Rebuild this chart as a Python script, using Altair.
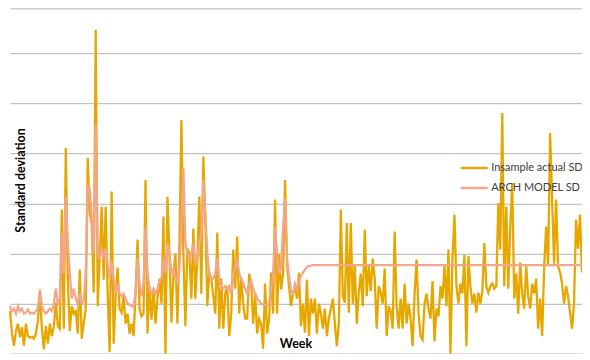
import altair as alt
import pandas as pd

# Weekly standard deviation (in gridline units)
actual_sd = [
    0.85, 0.40, 0.16, 0.46, 0.60, 0.33, 0.53, 0.16, 0.60, 0.35,
    0.32, 0.34, 0.30, 0.40, 0.66, 1.22, 0.50, 0.09, 0.55, 0.20,
    0.60, 0.35, 0.55, 1.02, 0.55, 0.50, 2.88, 0.50, 4.11, 1.50,
    0.45, 0.95, 0.80, 0.85, 0.40, 1.68, 0.30, 0.60, 0.90, 3.91,
    2.80, 2.60, 1.22, 6.47, 0.95, 1.88, 2.94, 1.48, 2.94, 1.20,
    0.03, 3.24, 0.20, 1.15, 1.72, 0.90, 0.82, 1.15, 0.60, 0.80,
    0.40, 0.60, 0.35, 1.20, 2.28, 0.90, 0.75, 0.80, 3.47, 0.40,
    1.35, 0.68, 1.30, 0.60, 1.10, 1.50, 1.00, 2.74, 0.00, 3.14,
    2.00, 0.62, 1.60, 2.00, 0.60, 2.15, 4.67, 2.00, 0.55, 2.10,
    2.00, 1.10, 2.50, 1.10, 1.90, 3.14, 1.20, 3.94, 2.70, 0.95,
    1.62, 1.50, 1.15, 0.80, 2.42, 0.50, 1.50, 0.50, 1.20, 1.35,
    0.35, 0.80, 2.08, 1.30, 2.34, 0.80, 1.50, 1.00, 0.70, 0.70,
    1.60, 1.40, 0.60, 1.20, 0.40, 0.70, 0.60, 0.10, 1.40, 0.40,
    0.70, 1.62, 0.80, 3.08, 0.80, 2.00, 1.28, 1.60, 3.47, 1.80,
    1.35, 0.95, 1.20, 1.35, 1.10, 1.62, 0.55, 1.00, 0.42, 1.48,
    0.35, 1.10, 0.80, 1.10, 0.40, 1.00, 0.80, 0.50, 0.90, 0.35,
    0.70, 0.90, 1.10, 0.60, 0.15, 0.60, 2.88, 1.15, 1.02, 2.61,
    0.82, 2.61, 1.00, 1.75, 0.60, 1.22, 1.60, 0.95, 2.48, 1.15,
    1.75, 1.25, 1.90, 1.50, 0.50, 1.35, 1.22, 1.00, 1.70, 0.35,
    0.95, 0.85, 0.50, 2.44, 0.95, 0.50, 1.10, 0.50, 1.40, 0.60,
    1.00, 0.70, 0.15, 1.20, 1.88, 0.80, 0.35, 0.28, 1.00, 1.20,
    0.90, 0.70, 1.45, 0.25, 0.90, 0.75, 1.35, 1.10, 1.75, 0.95,
    2.08, 0.00, 1.90, 2.78, 1.35, 1.00, 1.40, 1.20, 1.98, 0.15,
    1.95, 1.35, 1.00, 1.20, 0.82, 1.22, 1.00, 1.25, 2.21, 1.35,
    1.22, 1.35, 1.40, 1.30, 1.35, 3.01, 2.08, 4.81, 1.35, 2.94,
    1.30, 2.54, 3.41, 1.10, 1.60, 0.80, 1.82, 1.20, 0.90, 1.75,
    1.15, 0.90, 1.40, 1.20, 1.50, 0.50, 1.10, 0.35, 1.70, 2.54,
    1.75, 4.41, 3.08, 1.80, 3.08, 1.75, 1.62, 1.40, 1.00, 1.35,
    1.15, 0.82, 0.50, 1.00, 2.68, 2.10, 2.78, 1.62,
]

arch_sd = [
    0.95, 0.85, 0.90, 0.80, 0.95, 0.85, 0.90, 0.80, 0.82, 0.88,
    0.80, 0.82, 0.80, 0.85, 0.90, 1.28, 0.95, 0.85, 0.80, 0.85,
    0.90, 0.85, 1.00, 1.30, 1.00, 1.10, 2.42, 1.60, 3.14, 2.20,
    1.60, 1.10, 1.30, 1.10, 1.00, 1.20, 1.00, 1.05, 1.60, 3.34,
    3.30, 2.74, 2.00, 4.57, 2.00, 1.90, 2.10, 1.90, 2.10, 1.80,
    1.50, 1.86, 1.50, 1.20, 1.40, 1.20, 1.15, 1.20, 1.10, 1.00,
    0.98, 0.95, 0.94, 1.20, 1.90, 1.40, 1.15, 1.40, 2.54, 1.60,
    1.30, 1.20, 1.30, 1.20, 1.30, 1.46, 1.50, 1.90, 1.60, 2.20,
    2.00, 1.60, 1.70, 1.50, 1.40, 1.70, 2.50, 3.71, 2.20, 2.00,
    1.90, 2.00, 2.20, 1.80, 1.90, 2.20, 2.40, 3.47, 2.80, 2.00,
    1.60, 1.45, 1.50, 1.60, 1.90, 1.50, 1.30, 1.30, 1.35, 1.30,
    1.35, 1.20, 1.60, 1.70, 1.90, 1.60, 1.50, 1.40, 1.30, 1.20,
    1.40, 1.45, 1.30, 1.20, 1.10, 1.05, 1.00, 0.98, 0.98, 0.96,
    1.00, 1.30, 1.50, 2.54, 2.00, 1.60, 1.70, 2.50, 3.10, 1.90,
    1.55, 1.25, 1.20, 1.40, 1.28, 1.45, 1.55, 1.62, 1.68, 1.73,
    1.75, 1.76, 1.77, 1.77, 1.77, 1.77, 1.77, 1.77, 1.77, 1.77,
    1.77, 1.77, 1.77, 1.77, 1.77, 1.77, 1.77, 1.77, 1.77, 1.77,
    1.77, 1.77, 1.77, 1.77, 1.77, 1.77, 1.77, 1.77, 1.77, 1.77,
    1.77, 1.77, 1.77, 1.77, 1.77, 1.77, 1.77, 1.77, 1.77, 1.77,
    1.77, 1.77, 1.77, 1.77, 1.77, 1.77, 1.77, 1.77, 1.77, 1.77,
    1.77, 1.77, 1.77, 1.77, 1.77, 1.77, 1.77, 1.77, 1.77, 1.77,
    1.77, 1.77, 1.77, 1.77, 1.77, 1.77, 1.77, 1.77, 1.77, 1.77,
    1.77, 1.77, 1.77, 1.77, 1.77, 1.77, 1.77, 1.77, 1.77, 1.77,
    1.77, 1.77, 1.77, 1.77, 1.77, 1.77, 1.77, 1.77, 1.77, 1.77,
    1.77, 1.77, 1.77, 1.77, 1.77, 1.77, 1.77, 1.77, 1.77, 1.77,
    1.77, 1.77, 1.77, 1.77, 1.77, 1.77, 1.77, 1.77, 1.77, 1.77,
    1.77, 1.77, 1.77, 1.77, 1.77, 1.77, 1.77, 1.77, 1.77, 1.77,
    1.77, 1.77, 1.77, 1.77, 1.77, 1.77, 1.77, 1.77, 1.77, 1.77,
    1.77, 1.77, 1.77, 1.77, 1.77, 1.77, 1.77, 1.77,
]

weeks = list(range(1, len(actual_sd) + 1))
series_names = ["Insample actual SD", "ARCH MODEL SD"]
series_colors = ["#E6A800", "#F3A68A"]
grid_values = [0, 1, 2, 3, 4, 5, 6]

df = pd.DataFrame({
    "week": weeks * 2,
    "sd": actual_sd + arch_sd,
    "series": [series_names[0]] * len(weeks) + [series_names[1]] * len(weeks),
})

FONT = "Lato"

x_enc = alt.X(
    "week:Q",
    scale=alt.Scale(domain=[1, len(weeks)], nice=False, zero=False),
    axis=alt.Axis(
        orient="top", labels=False, ticks=False, grid=False,
        domain=True, domainColor="#C2C2C2", domainWidth=1.3,
        title="Week", titleFont=FONT, titleFontSize=12.5, titleFontWeight="bold",
        titleColor="#000000", titleX=286, titleY=336, titleBaseline="middle",
        titleAlign="center",
    ),
)
y_enc = alt.Y(
    "sd:Q",
    scale=alt.Scale(domain=[0, 6.9], nice=False),
    axis=alt.Axis(
        values=grid_values, labels=False, ticks=False, domain=False,
        grid=True, gridColor="#C2C2C2", gridWidth=1.3,
        title="Standard deviation", titleFont=FONT, titleFontSize=12.5,
        titleFontWeight="bold", titleColor="#000000", titleAngle=270,
        titleX=11, titleY=172, titleBaseline="middle", titleAlign="center",
    ),
)
color_enc = alt.Color(
    "series:N",
    scale=alt.Scale(domain=series_names, range=series_colors),
    legend=alt.Legend(
        title=None, orient="none", legendX=450, legendY=145,
        symbolType="stroke", symbolStrokeWidth=2.5, symbolSize=729,
        labelFont=FONT, labelFontSize=11, labelColor="#404040",
        labelOffset=2, padding=0, rowPadding=0, labelLimit=200,
    ),
)

base = alt.Chart(df).mark_line(strokeWidth=2.3, interpolate="linear")
layer_actual = base.transform_filter(alt.datum.series == series_names[0]).encode(
    x=x_enc, y=y_enc, color=color_enc
)
layer_arch = base.transform_filter(alt.datum.series == series_names[1]).encode(
    x=x_enc, y=y_enc, color=color_enc
)

chart = alt.layer(layer_actual, layer_arch).properties(
    width=573, height=346,
    autosize=alt.AutoSizeParams(type="none"),
    padding={"left": 2, "top": 0, "right": 0, "bottom": 0},
).configure_view(stroke=None)

chart.save("out.html", embed_options={"renderer": "svg", "actions": False})
